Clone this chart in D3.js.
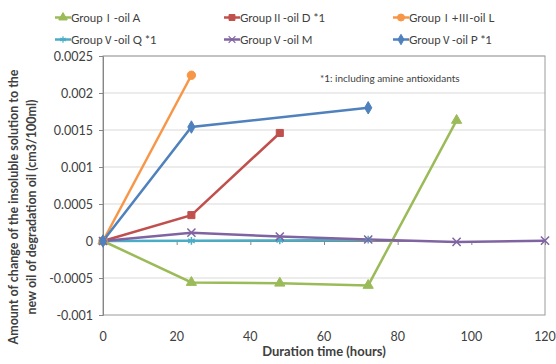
<!DOCTYPE html>
<html>
<head>
<meta charset="utf-8">
<script src="https://cdn.jsdelivr.net/npm/d3@7"></script>
<style>
  body { margin: 0; background: #fff; }
  svg text { font-family: Lato, "Open Sans", sans-serif; fill: #404040; }
</style>
</head>
<body>
<div id="chart"></div>
<script>
// data
const hours = [0, 24, 48, 72, 96, 120];
const yTicks = [-0.001, -0.0005, 0, 0.0005, 0.001, 0.0015, 0.002, 0.0025];
const xTicks = [0, 20, 40, 60, 80, 100, 120];

const oilA = [0, -0.00056, -0.00057, -0.0006, 0.00163];
const oilD = [0, 0.00035, 0.00146];
const oilL = [0, 0.00224];
const oilQ = [0, 0.000002, 0.000008, 0.000018];
const oilM = [0, 0.000113, 0.00006, 0.00002, -0.000012, 0.000005];
const oilPHours = [0, 24, 72];
const oilP = [0, 0.00154, 0.0018];

const seriesNames = ['GroupⅠ-oil A', 'GroupⅡ-oil D *1', 'GroupⅠ+Ⅲ-oil L',
  'GroupⅤ-oil Q *1', 'GroupⅤ-oil M', 'GroupⅤ-oil P *1'];
const seriesColors = ['#9bbb59', '#c0504d', '#f79646', '#4bacc6', '#8064a2', '#4f81bd'];

const series = [
  { name: seriesNames[0], color: seriesColors[0], symbol: d3.symbolTriangle, size: 45, pts: oilA.map((v, i) => [hours[i], v]) },
  { name: seriesNames[1], color: seriesColors[1], symbol: d3.symbolSquare, size: 50, pts: oilD.map((v, i) => [hours[i], v]) },
  { name: seriesNames[2], color: seriesColors[2], symbol: d3.symbolCircle, size: 55, pts: oilL.map((v, i) => [hours[i], v]) },
  { name: seriesNames[3], color: seriesColors[3], symbol: d3.symbolAsterisk, size: 40, stroke: true, pts: oilQ.map((v, i) => [hours[i], v]) },
  { name: seriesNames[4], color: seriesColors[4], symbol: d3.symbolX, size: 45, stroke: true, pts: oilM.map((v, i) => [hours[i], v]) },
  { name: seriesNames[5], color: seriesColors[5], symbol: d3.symbolDiamond, size: 45, pts: oilP.map((v, i) => [oilPHours[i], v]) },
];

const width = 556, height = 364;
const margin = { left: 103, right: 11, top: 56, bottom: 49 };

const svg = d3.select('#chart').append('svg')
  .attr('width', width).attr('height', height);

const x = d3.scaleLinear().domain([0, 120]).range([margin.left, width - margin.right]);
const y = d3.scaleLinear().domain([-0.001, 0.0025]).range([height - margin.bottom, margin.top]);

// gridlines
svg.append('g')
  .selectAll('line').data(yTicks.filter(t => t !== -0.001 && t !== 0)).join('line')
  .attr('x1', x(0)).attr('x2', x(120))
  .attr('y1', d => y(d)).attr('y2', d => y(d))
  .attr('stroke', '#d9d9d9').attr('stroke-width', 1);

// plot area border
svg.append('rect')
  .attr('x', x(0)).attr('y', y(0.0025))
  .attr('width', x(120) - x(0)).attr('height', y(-0.001) - y(0.0025))
  .attr('fill', 'none').attr('stroke', '#9a9a9a').attr('stroke-width', 1);

// y axis
const yAxis = svg.append('g')
  .attr('transform', `translate(${x(0)},0)`)
  .call(d3.axisLeft(y).tickValues(yTicks).tickSize(4).tickPadding(6)
    .tickFormat(d => d === 0 ? '0' : String(+d.toFixed(4))));
yAxis.select('.domain').attr('stroke', '#868686');
yAxis.selectAll('.tick line').attr('stroke', '#868686');
yAxis.selectAll('.tick text').style('font-size', '12.5px').attr('fill', '#404040');

// x axis crossing at zero, labels at the bottom
const xAxis = svg.append('g')
  .attr('transform', `translate(0,${y(0)})`)
  .call(d3.axisBottom(x).tickValues(xTicks).tickSize(4).tickFormat(''));
xAxis.select('.domain').attr('stroke', '#868686');
xAxis.selectAll('.tick line').attr('stroke', '#868686');

svg.append('g')
  .selectAll('text').data(xTicks).join('text')
  .attr('x', d => x(d)).attr('y', y(-0.001) + 26)
  .attr('text-anchor', 'middle')
  .style('font-size', '12.5px')
  .text(d => d);

// lines and markers
const line = d3.line().x(d => x(d[0])).y(d => y(d[1]));
series.forEach(s => {
  svg.append('path')
    .datum(s.pts)
    .attr('fill', 'none')
    .attr('stroke', s.color)
    .attr('stroke-width', 2.5)
    .attr('d', line);
});
series.forEach(s => {
  svg.append('g')
    .selectAll('path').data(s.pts).join('path')
    .attr('transform', d => `translate(${x(d[0])},${y(d[1])})`)
    .attr('d', d3.symbol().type(s.symbol).size(s.size))
    .attr('fill', s.stroke ? 'none' : s.color)
    .attr('stroke', s.color)
    .attr('stroke-width', s.stroke ? 1.5 : 1);
});

// legend, roman numerals set in a CJK font like the original
const legendCols = [55, 224, 393];
const legendRows = [17.5, 39.5];
series.forEach((s, i) => {
  const lx = legendCols[i % 3], ly = legendRows[Math.floor(i / 3)];
  const g = svg.append('g').attr('transform', `translate(${lx},${ly})`);
  g.append('line').attr('x1', 0).attr('x2', 16).attr('y1', 0).attr('y2', 0)
    .attr('stroke', s.color).attr('stroke-width', 2.5);
  g.append('path').attr('transform', 'translate(8,0)')
    .attr('d', d3.symbol().type(s.symbol).size(s.size * 0.7))
    .attr('fill', s.stroke ? 'none' : s.color)
    .attr('stroke', s.color).attr('stroke-width', s.stroke ? 1.2 : 1);
  const t = g.append('text').attr('x', 16).attr('y', 4.5)
    .style('font-size', '11.5px').attr('fill', '#262626');
  s.name.split(/([ⅠⅡⅢⅤ])/).forEach(part => {
    if (!part) return;
    const span = t.append('tspan').text(part);
    if (/[ⅠⅡⅢⅤ]/.test(part)) span.style('font-family', '"Noto Sans CJK JP"').style('font-size', '11px');
  });
});

// note
svg.append('text')
  .attr('x', 320).attr('y', 82)
  .style('font-size', '10px')
  .attr('fill', '#000')
  .text('*1: including amine antioxidants');

// axis titles
svg.append('text')
  .attr('x', 324).attr('y', 356)
  .attr('text-anchor', 'middle')
  .style('font-size', '13px').style('font-weight', 'bold')
  .text('Duration time (hours)');

const yTitle = svg.append('text')
  .attr('transform', 'translate(0,207) rotate(-90)')
  .attr('text-anchor', 'middle')
  .style('font-size', '12.5px').style('font-weight', 'bold');
yTitle.append('tspan').attr('x', 0).attr('y', 18).text('Amount of change of the insoluble solution to the');
yTitle.append('tspan').attr('x', 0).attr('y', 36).text('new oil of degradation oil (cm3/100ml)');
</script>
</body>
</html>
